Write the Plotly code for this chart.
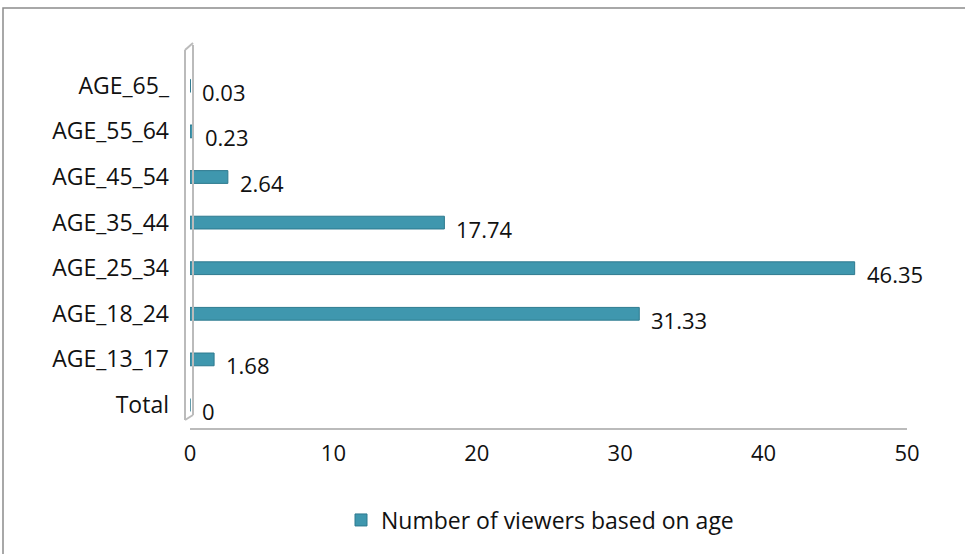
import plotly.graph_objects as go

categories = ["Total", "AGE_13_17", "AGE_18_24", "AGE_25_34", "AGE_35_44", "AGE_45_54", "AGE_55_64", "AGE_65_"]
values = [0, 1.68, 31.33, 46.35, 17.74, 2.64, 0.23, 0.03]
x_ticks = [0, 10, 20, 30, 40, 50]
series_name = "Number of viewers based on age"

W, H = 965, 554
L, R, T, B = 190, 58, 63, 126
pw, ph = W - L - R, H - T - B

def px(xp):
    return (xp - L) / pw

def py(yp):
    return (H - B - yp) / ph

fig = go.Figure()
fig.add_trace(go.Bar(
    y=categories, x=values, orientation="h", name=series_name,
    marker=dict(color="#3F97AE", line=dict(color="#2E7A8F", width=1)),
    width=0.28, showlegend=True,
))

for c, v in zip(categories, values):
    fig.add_annotation(x=v, y=c, text=str(v), showarrow=False, xanchor="left",
                       xshift=10, yshift=-6, font=dict(size=22, color="#111"))

fig.update_layout(
    width=W, height=H, margin=dict(l=L, r=R, t=T, b=B),
    paper_bgcolor="white", plot_bgcolor="white",
    font=dict(family="Open Sans, Liberation Sans, sans-serif", size=22, color="#111"),
    xaxis=dict(range=[0, 50], tickvals=x_ticks, showgrid=False, zeroline=False,
               showline=True, linecolor="#BBBBBB", linewidth=2, ticks="", ticklen=0,
               tickfont=dict(size=22), ticklabelstandoff=5),
    yaxis=dict(showgrid=False, zeroline=False, showline=False, ticks="",
               tickfont=dict(size=23), ticklabelstandoff=20),
    legend=dict(orientation="h", x=px(540), xanchor="center", y=py(520), yanchor="middle",
                font=dict(size=23), itemwidth=30),
    bargap=0.72,
    shapes=[
        dict(type="rect", xref="paper", yref="paper", x0=px(3), x1=px(1000), y0=py(600), y1=py(8),
             line=dict(color="#8C8C8C", width=1.5), fillcolor="rgba(0,0,0,0)", layer="below"),
        dict(type="line", xref="paper", yref="paper", x0=px(185), x1=px(185), y0=py(420), y1=py(50),
             line=dict(color="#BBBBBB", width=2)),
        dict(type="line", xref="paper", yref="paper", x0=px(193), x1=px(193), y0=py(415), y1=py(45),
             line=dict(color="#BBBBBB", width=2)),
        dict(type="line", xref="paper", yref="paper", x0=px(185), x1=px(193), y0=py(50), y1=py(43),
             line=dict(color="#BBBBBB", width=2)),
        dict(type="line", xref="paper", yref="paper", x0=px(185), x1=px(193), y0=py(420), y1=py(415),
             line=dict(color="#BBBBBB", width=2)),
    ],
)

fig.write_html("out.html")
